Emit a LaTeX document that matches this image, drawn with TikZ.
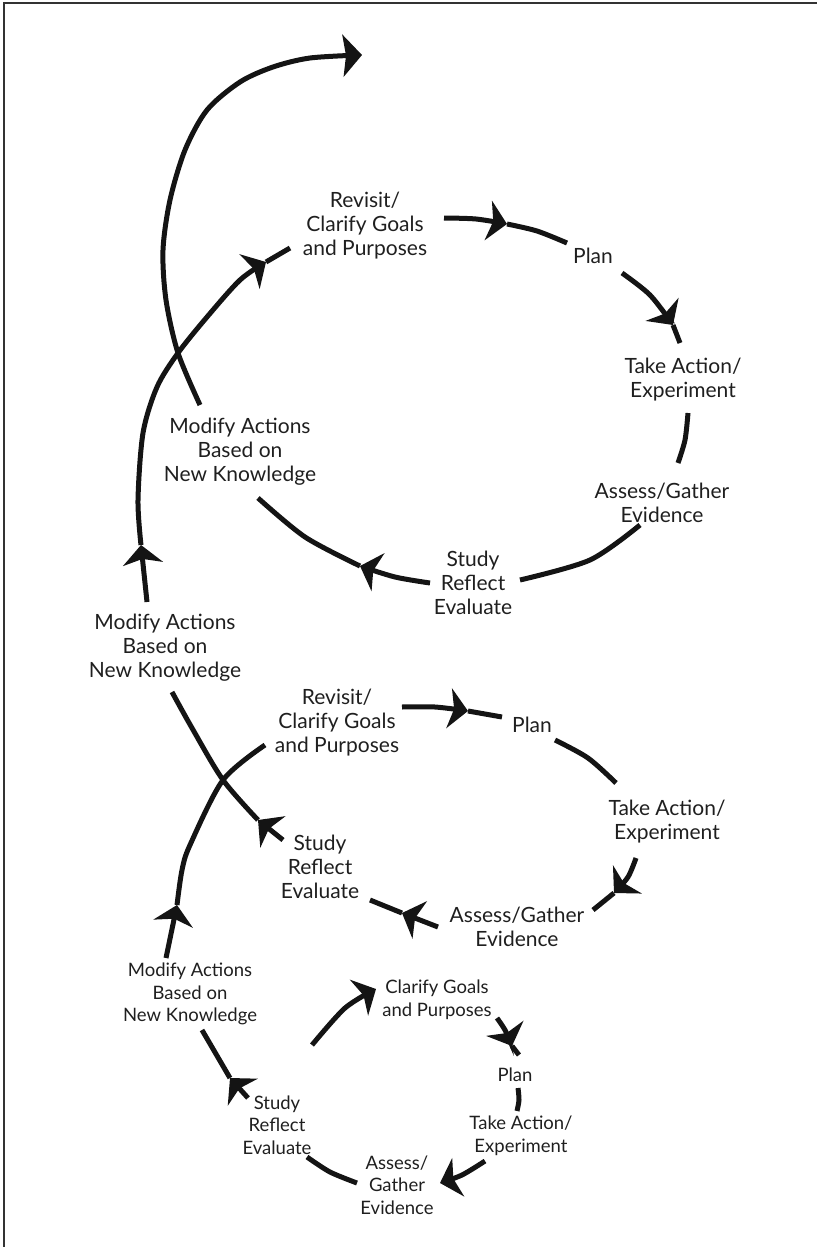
\documentclass[tikz,border=0pt]{standalone}
\usepackage{fontspec}
\setmainfont{Lato}
\usetikzlibrary{arrows.meta}
\begin{document}
\begin{tikzpicture}[x=1pt,y=-1pt,
  lbl/.style={align=center, font=\fontsize{21}{24}\selectfont, text=black!88, inner sep=0pt},
  slbl/.style={align=center, font=\fontsize{18.5}{22.5}\selectfont, text=black!88, inner sep=0pt},
  spiral/.style={line width=5pt, draw=black!92},
  arr/.style={-{Stealth[length=19pt,width=40pt,inset=5pt]}},
  bigarr/.style={-{Stealth[length=19pt,width=42pt,inset=3pt]}},
  frame/.style={line width=2pt, draw=black!80},
]
\useasboundingbox (0,0) rectangle (817,1247);
\coordinate (fl) at (3.5,1247);
\coordinate (fc) at (3.5,3.5);
\coordinate (fr) at (817,3.5);
\draw[frame] (fl) -- (fc) -- (fr);

% ---------- labels: top loop ----------
\node[lbl] (tRev)   at (365,226) {Revisit/\\Clarify Goals\\and Purposes};
\node[lbl] (tPlan)  at (593,256) {Plan};
\node[lbl] (tTake)  at (683,380) {Take Action/\\Experiment};
\node[lbl] (tAss)   at (662,503) {Assess/Gather\\Evidence};
\node[lbl] (tStudy) at (473,583) {Study\\Reflect\\Evaluate};
\node[lbl] (tMod)   at (240,452) {Modify Actions\\Based on\\New Knowledge};
% ---------- labels: middle loop ----------
\node[lbl] (mMod)   at (165,648) {Modify Actions\\Based on\\New Knowledge};
\node[lbl] (mRev)   at (337,723) {Revisit/\\Clarify Goals\\and Purposes};
\node[lbl] (mPlan)  at (532,725) {Plan};
\node[lbl] (mTake)  at (667,822) {Take Action/\\Experiment};
\node[lbl] (mAss)   at (517,927) {Assess/Gather\\Evidence};
\node[lbl] (mStudy) at (320,867) {Study\\Reflect\\Evaluate};
% ---------- labels: bottom loop ----------
\node[slbl] (bMod)   at (190,994) {Modify Actions\\Based on\\New Knowledge};
\node[slbl] (bClar)  at (437,1000) {Clarify Goals\\and Purposes};
\node[slbl] (bPlan)  at (515,1075) {Plan};
\node[slbl] (bTake)  at (521,1136) {Take Action/\\Experiment};
\node[slbl] (bAss)   at (397,1185) {Assess/\\Gather\\Evidence};
\node[slbl] (bStudy) at (277,1125) {Study\\Reflect\\Evaluate};

% ---------- spiral coordinates ----------
% bottom loop
\coordinate (b0) at (312,1045);
\coordinate (b1) at (345,1008);
\coordinate (b1a) at (376,989);
\coordinate (b2) at (497,1018);
\coordinate (b2a) at (512,1046);
\coordinate (b2e) at (519,1055);
\coordinate (b3) at (518,1088);
\coordinate (b3e) at (517,1111);
\coordinate (b4) at (485,1161);
\coordinate (b4a) at (440,1183);
\coordinate (b4e) at (436,1185);
\coordinate (b5) at (357,1183);
\coordinate (b5e) at (307,1157);
\coordinate (b6) at (248,1098);
\coordinate (b6a) at (230,1078);
\coordinate (b6e) at (202,1030);
% to middle loop
\coordinate (m0) at (166,958);
\coordinate (m0a) at (177,905);
\coordinate (m0b) at (190,845);
\coordinate (cx1) at (223,780);
\coordinate (m0e) at (265,745);
\coordinate (m1) at (402,707);
\coordinate (m1a) at (468,711);
\coordinate (m1e) at (502,717);
\coordinate (m2) at (555,740);
\coordinate (m2e) at (616,783);
\coordinate (m3) at (636,858);
\coordinate (m3a) at (614,893);
\coordinate (m3e) at (593,910);
\coordinate (m4) at (438,927);
\coordinate (m4a) at (402,913);
\coordinate (m4e) at (370,900);
\coordinate (m5) at (283,840);
\coordinate (m5a) at (258,820);
\coordinate (m5e) at (172,692);
% to top loop
\coordinate (t0) at (147,602);
\coordinate (t0a) at (141,545);
\coordinate (cx2) at (178,353);
\coordinate (t0b) at (266,262);
\coordinate (t0e) at (290,248);
\coordinate (t1) at (444,218);
\coordinate (t1a) at (507,224);
\coordinate (t1e) at (567,243);
\coordinate (t2) at (622,273);
\coordinate (t2a) at (673,325);
\coordinate (t2e) at (680,343);
\coordinate (t3) at (688,413);
\coordinate (t3e) at (678,463);
\coordinate (t4) at (640,525);
\coordinate (t4e) at (520,580);
\coordinate (t5) at (430,583);
\coordinate (t5a) at (360,566);
\coordinate (t5e) at (258,498);
\coordinate (t6) at (200,405);
\coordinate (tend) at (362,55);

% ---------- bottom loop ----------
\draw[spiral,arr] plot[smooth] coordinates {(b0) (b1) (b1a)};
\draw[spiral,arr] plot[smooth] coordinates {(b2) (505,1030) (b2a)};
\draw[spiral] (b2a) -- (b2e);
\draw[spiral] plot[smooth] coordinates {(b3) (519,1100) (b3e)};
\draw[spiral,arr] plot[smooth] coordinates {(b4) (462,1175) (b4a)};
\draw[spiral] plot[smooth] coordinates {(b5) (330,1172) (b5e)};
\draw[spiral,arr] plot[smooth] coordinates {(b6) (b6a)};
\draw[spiral] (b6a) -- (b6e);
% ---------- bottom -> middle ----------
\draw[spiral,arr] plot[smooth] coordinates {(m0) (m0a)};
\draw[spiral] plot[smooth] coordinates {(m0a) (182,870) (m0b) (cx1) (m0e)};
% ---------- middle loop ----------
\draw[spiral,arr] plot[smooth] coordinates {(m1) (435,707) (m1a)};
\draw[spiral] (m1a) -- (m1e);
\draw[spiral] plot[smooth] coordinates {(m2) (588,758) (m2e)};
\draw[spiral,arr] plot[smooth] coordinates {(m3) (628,877) (m3a)};
\draw[spiral] (m3a) -- (m3e);
\draw[spiral,arr] plot[smooth] coordinates {(m4) (m4a)};
\draw[spiral] (m4a) -- (m4e);
\draw[spiral,arr] (m5) -- (m5a);
\draw[spiral] plot[smooth] coordinates {(m5a) (cx1) (192,728) (m5e)};
% ---------- middle -> top ----------
\draw[spiral,arr] (t0) -- (t0a);
\draw[spiral,arr] plot[smooth] coordinates {(t0a) (138,500) (143,433) (157,387) (cx2) (207,317) (240,280) (t0b)};
\draw[spiral] (t0b) -- (t0e);
% ---------- top loop ----------
\draw[spiral,arr] plot[smooth] coordinates {(t1) (476,219) (t1a)};
\draw[spiral] plot[smooth] coordinates {(t1a) (537,231) (t1e)};
\draw[spiral,arr] plot[smooth] coordinates {(t2) (650,295) (t2a)};
\draw[spiral] (t2a) -- (t2e);
\draw[spiral] plot[smooth] coordinates {(t3) (685,440) (t3e)};
\draw[spiral] plot[smooth] coordinates {(t4) (590,560) (t4e)};
\draw[spiral,arr] plot[smooth] coordinates {(t5) (395,577) (t5a)};
\draw[spiral] plot[smooth] coordinates {(t5a) (305,537) (t5e)};
% ---------- exit ----------
\draw[spiral,bigarr] plot[smooth] coordinates {(t6) (cx2) (166,300) (163,250) (170,200) (185,150) (207,110) (240,82) (273,67) (310,58) (tend)};
\end{tikzpicture}
\end{document}
